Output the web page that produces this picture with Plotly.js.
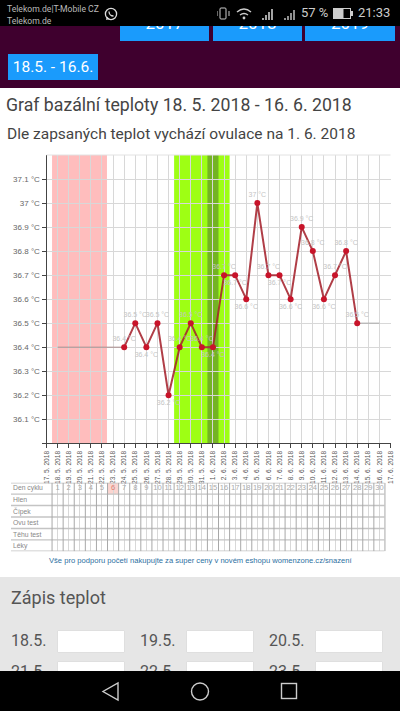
<!DOCTYPE html>
<html><head><meta charset="utf-8">
<script src="https://cdn.plot.ly/plotly-3.0.1.min.js"></script>
<style>
html,body{margin:0;padding:0;background:#fff;overflow:hidden;width:400px;height:711px;font-family:Roboto,sans-serif}
.a{position:absolute;white-space:nowrap}
.btn{background:#1a9bfc;color:#fff;text-align:center}
.inp{position:absolute;background:#fff;width:66px;height:21px;box-shadow:0 0 1px #bbb}
.lab{position:absolute;color:#555;font-size:16px;line-height:20px}
</style></head><body>
<div class="a" style="left:0;top:26px;width:400px;height:62px;background:#3f002e;overflow:hidden">
<div class="a btn" style="left:120px;top:-16px;width:89px;height:31px;font-size:17px;line-height:27px">2017</div>
<div class="a btn" style="left:213px;top:-16px;width:89px;height:31px;font-size:17px;line-height:27px">2018</div>
<div class="a btn" style="left:305px;top:-16px;width:90px;height:31px;font-size:17px;line-height:27px">2019</div>
<div class="a btn" style="left:8px;top:28px;width:90px;height:26px;font-size:15.5px;line-height:26px">18.5. - 16.6.</div>
</div>
<div class="a" style="left:0;top:0;width:400px;height:26px;background:#000"></div>
<div class="a" style="left:7px;top:3px;color:#bbb;font-size:8.6px;line-height:12px">Telekom.de|T-Mobile CZ<br>Telekom.de</div>
<svg class="a" style="left:103px;top:6px" width="16" height="16" viewBox="0 0 16 16"><circle cx="8" cy="8" r="5.6" fill="none" stroke="#ddd" stroke-width="1.3"/><path d="M3 14l1-3.5 2.5 2.5z" fill="#ddd"/><path d="M6 5.5c0 2.500 2 4.500 4.500 4.500" fill="none" stroke="#ddd" stroke-width="1.3"/></svg>
<svg class="a" style="left:217px;top:7px" width="80" height="14" viewBox="0 0 80 14"><rect x="3" y="1" width="6" height="11" rx="1" fill="none" stroke="#ccc"/><path d="M0 4v5M12 4v5" stroke="#ccc"/><path d="M20 5q7-6 14 0M23 8q4-3 8 0" fill="none" stroke="#ccc" stroke-width="1.4"/><circle cx="27" cy="11" r="1.4" fill="#ccc"/><path d="M46 11v2M49 8v5M52 5v8M55 2v11" stroke="#ccc" stroke-width="1.6"/><path d="M68 11v2M71 9v4M74 6v7M77 3v10" stroke="#ccc" stroke-width="1.4"/></svg>
<div class="a" style="left:301px;top:5px;color:#ccc;font-size:13px;line-height:16px">57 %</div>
<svg class="a" style="left:333px;top:8px" width="21" height="11"><rect x="0.5" y="0.5" width="17" height="10" fill="none" stroke="#ccc"/><rect x="1" y="1" width="9.5" height="9" fill="#ccc"/><rect x="18" y="3" width="2" height="5" fill="#ccc"/></svg>
<div class="a" style="left:358px;top:5px;color:#ccc;font-size:13px;line-height:16px">21:33</div>

<div class="a" style="left:0;top:577px;width:400px;height:94px;background:#e6e6e6"></div>
<div class="a" style="left:11px;top:586px;color:#555;font-size:18px;line-height:24px">Zápis teplot</div>
<div class="lab" style="left:11px;top:631px">18.5.</div><div class="inp" style="left:58px;top:631px"></div>
<div class="lab" style="left:140px;top:631px">19.5.</div><div class="inp" style="left:187px;top:631px"></div>
<div class="lab" style="left:269px;top:631px">20.5.</div><div class="inp" style="left:316px;top:631px"></div>
<div class="lab" style="left:11px;top:662px">21.5.</div><div class="inp" style="left:58px;top:662px"></div>
<div class="lab" style="left:140px;top:662px">22.5.</div><div class="inp" style="left:187px;top:662px"></div>
<div class="lab" style="left:269px;top:662px">23.5.</div><div class="inp" style="left:316px;top:662px"></div>
<div class="a" style="left:0;top:671px;width:400px;height:40px;background:#000"></div>
<svg class="a" style="left:0;top:671px" width="400" height="40" fill="none" stroke="#ccc" stroke-width="1.4"><path d="M118 12v17l-15-8.500z"/><circle cx="200" cy="20.500" r="8.500"/><rect x="281.500" y="12.500" width="15" height="15"/></svg>

<div id="chart" class="a" style="left:0;top:0;width:400px;height:711px"></div>
<script>
const dates = ["17. 5. 2018","18. 5. 2018","19. 5. 2018","20. 5. 2018","21. 5. 2018","22. 5. 2018","23. 5. 2018","24. 5. 2018","25. 5. 2018","26. 5. 2018","27. 5. 2018","28. 5. 2018","29. 5. 2018","30. 5. 2018","31. 5. 2018","1. 6. 2018","2. 6. 2018","3. 6. 2018","4. 6. 2018","5. 6. 2018","6. 6. 2018","7. 6. 2018","8. 6. 2018","9. 6. 2018","10. 6. 2018","11. 6. 2018","12. 6. 2018","13. 6. 2018","14. 6. 2018","15. 6. 2018","16. 6. 2018","17. 6. 2018"];
const measuredDates = ["24. 5. 2018","25. 5. 2018","26. 5. 2018","27. 5. 2018","28. 5. 2018","29. 5. 2018","30. 5. 2018","31. 5. 2018","1. 6. 2018","2. 6. 2018","3. 6. 2018","4. 6. 2018","5. 6. 2018","6. 6. 2018","7. 6. 2018","8. 6. 2018","9. 6. 2018","10. 6. 2018","11. 6. 2018","12. 6. 2018","13. 6. 2018","14. 6. 2018"];
const temps = [36.4,36.5,36.4,36.5,36.2,36.4,36.5,36.4,36.4,36.7,36.7,36.6,37,36.7,36.7,36.6,36.9,36.8,36.6,36.7,36.8,36.5];
const labelsBelow = ["26. 5. 2018","28. 5. 2018","1. 6. 2018","3. 6. 2018","4. 6. 2018","7. 6. 2018","8. 6. 2018","11. 6. 2018"];
const leadDates = ["18. 5. 2018","24. 5. 2018"];
const leadTemps = [36.4,36.4];
const tailDates = ["14. 6. 2018","16. 6. 2018"];
const tailTemps = [36.5,36.5];
const yTicks = [36,36.1,36.2,36.3,36.4,36.5,36.6,36.7,36.8,36.9,37,37.1];
const yTickText = ["","36.1 °C","36.2 °C","36.3 °C","36.4 °C","36.5 °C","36.6 °C","36.7 °C","36.8 °C","36.9 °C","37 °C","37.1 °C"];
const cycleDays = ["1","2","3","4","5","6","7","8","9","10","11","12","13","14","15","16","17","18","19","20","21","22","23","24","25","26","27","28","29","30"];
const rowLabels = ["Den cyklu","Hlen","Čípek","Ovu test","Těhu test","Léky"];

const W=400,H=711;
const fy=p=>1-p/H;
const shapes=[];
const band=(a,b,c)=>shapes.push({type:'rect',layer:'between',xref:'x',yref:'paper',x0:a,x1:b,y0:fy(443.3),y1:fy(155),fillcolor:c,line:{width:0}});
band(0.5,5.45,'rgba(255,178,178,0.85)');
band(11.5,16.5,'rgba(150,255,0,0.92)');
band(14.5,15.5,'rgba(105,160,40,0.8)');
shapes.push({type:'line',xref:'paper',yref:'paper',x0:46.5/W,x1:390.5/W,y0:fy(155),y1:fy(155),line:{color:'#e2e2e2',width:1}});
shapes.push({type:'rect',layer:'below',xref:'x',yref:'y2',x0:5.5,x1:6.5,y0:0,y1:1,fillcolor:'#fbd5d0',line:{width:0}});
for(let r=0;r<=6;r++)shapes.push({type:'line',xref:'paper',yref:'y2',x0:11/W,x1:384.3/W,y0:r,y1:r,line:{color:'#c4c4c4',width:1.4}});
for(let c=0;c<=30;c++)shapes.push({type:'line',xref:'x',yref:'y2',x0:c+0.5,x1:c+0.5,y0:0,y1:6,line:{color:'#a8a8a8',width:1}});

const annotations=[
 {xref:'paper',yref:'paper',x:4.5/W,y:fy(134),xanchor:'left',yanchor:'middle',showarrow:false,text:'Dle zapsaných teplot vychází ovulace na 1. 6. 2018',font:{family:'Roboto',size:15.5,color:'#444'}},
 {xref:'paper',yref:'paper',x:201/W,y:fy(560),xanchor:'center',yanchor:'middle',showarrow:false,text:'Vše pro podporu početí nakupujte za super ceny v novém eshopu womenzone.cz/snazení',font:{family:'Arial, Liberation Sans',size:7.6,color:'#2c6f9f'}}
];
rowLabels.forEach((t,i)=>annotations.push({xref:'paper',yref:'y2',x:10.5/W,y:i+0.5,xanchor:'left',yanchor:'middle',showarrow:false,text:t,font:{family:'Arial, Liberation Sans',size:6.8,color:'#888'}}));

const traces=[
 {x:leadDates,y:leadTemps,mode:'lines',line:{color:'#a98c8c',width:1},hoverinfo:'skip'},
 {x:tailDates,y:tailTemps,mode:'lines',line:{color:'#aaaaaa',width:1},hoverinfo:'skip'},
 {x:measuredDates,y:temps,mode:'lines+markers+text',
  line:{color:'rgba(165,35,45,0.88)',width:2},marker:{color:'#c8142a',size:6},
  text:temps.map(v=>v+' °C'),
  textposition:measuredDates.map(d=>labelsBelow.includes(d)?'bottom center':'top center'),
  textfont:{family:'Arial, Liberation Sans',size:7,color:'#c4c4c4'},cliponaxis:false},
 {x:dates.slice(1,31),y:cycleDays.map(()=>0.5),yaxis:'y2',mode:'text',text:cycleDays,textposition:'middle center',
  textfont:{family:'Arial, Liberation Sans',size:7.6,color:cycleDays.map(d=>d==='6'?'#e08070':'#aaaaaa')},cliponaxis:false}
];
const layout={
 width:W,height:H,margin:{l:0,r:0,t:0,b:0},paper_bgcolor:'rgba(0,0,0,0)',plot_bgcolor:'rgba(0,0,0,0)',showlegend:false,
 title:{text:'Graf bazální teploty 18. 5. 2018 - 16. 6. 2018',x:6/W,xanchor:'left',xref:'container',y:fy(105),yref:'container',yanchor:'middle',font:{family:'Roboto',size:17.7,color:'#444'}},
 xaxis:{domain:[46.5/W,390.5/W],type:'category',categoryorder:'array',categoryarray:dates,range:[0,31],dtick:1,tickmode:'linear',tick0:0,
  anchor:'y',tickangle:-90,tickfont:{family:'Arial, Liberation Sans',size:6.6,color:'#555'},ticks:'outside',ticklen:4,tickcolor:'#444',tickwidth:1,
  showline:true,linecolor:'#444',linewidth:1,showgrid:true,gridcolor:'#d8d8d8',gridwidth:1,zeroline:false},
 yaxis:{domain:[fy(443.3),fy(155)],range:[36,37.2],tickmode:'array',tickvals:yTicks,ticktext:yTickText,anchor:'x',
  tickfont:{family:'Arial, Liberation Sans',size:8,color:'#666'},ticks:'outside',ticklen:4,tickcolor:'#444',
  showline:true,linecolor:'#444',linewidth:1,showgrid:true,gridcolor:'#d8d8d8',gridwidth:1,zeroline:false},
 yaxis2:{domain:[fy(551.3),fy(482.7)],range:[6,0],visible:false,anchor:'x',fixedrange:true},
 shapes,annotations
};
Plotly.newPlot('chart',traces,layout,{displayModeBar:false,staticPlot:true});
</script>
</body></html>
